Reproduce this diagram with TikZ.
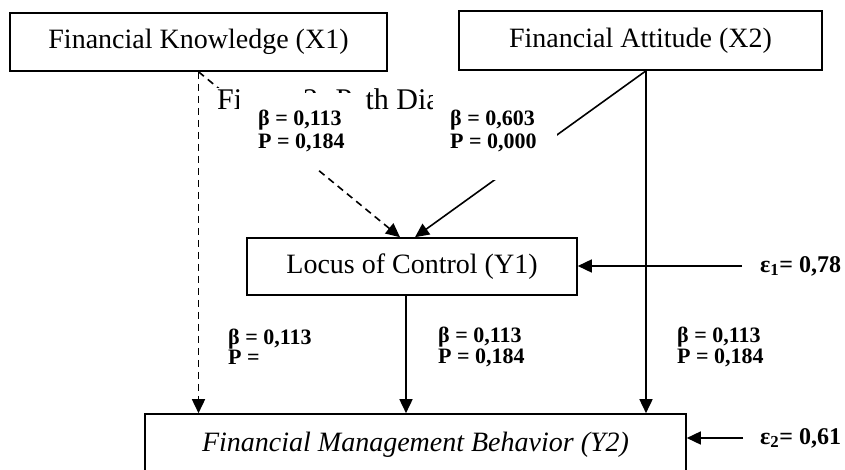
\documentclass[tikz,border=0pt]{standalone}
\usepackage{fontspec}
\setmainfont{Liberation Serif}
\usetikzlibrary{arrows.meta}
\begin{document}
\begin{tikzpicture}[x=1pt,y=-1pt,
  box/.style={draw, line width=1.6pt, fill=white, inner sep=0pt, font=\fontsize{28}{32}\selectfont},
  conn/.style={line width=1.6pt, -{Triangle[length=14pt,width=13pt]}},
  dconn/.style={conn, dash pattern=on 7pt off 5pt},
  lbl/.style={font=\bfseries\fontsize{22}{18.5}\selectfont, align=left, inner sep=0pt, anchor=west},
  lblu/.style={lbl, font=\bfseries\fontsize{22}{23}\selectfont},
  eps/.style={font=\bfseries\fontsize{24}{28}\selectfont, inner sep=0pt, anchor=west},
  cover/.style={fill=white, inner sep=0pt},
]
\useasboundingbox (0,0) rectangle (845,470);

% boxes
\node[box, minimum width=377pt, minimum height=58pt] (x1) at (198.5,42) {Financial Knowledge (X1)};
\node[box, minimum width=363pt, minimum height=59pt] (x2) at (640.5,40.5) {Financial Attitude (X2)};
\node[box, minimum width=330pt, minimum height=57pt] (y1) at (412,266.5) {Locus of Control (Y1)};
\node[box, minimum width=541pt, minimum height=62pt] (y2) at (415.5,445) {\itshape Financial Management Behavior (Y2)};

% helper coordinates
\coordinate (x2o) at ([xshift=5.5pt]x2.south);
\coordinate (y1in1) at ([xshift=-12pt]y1.north);
\coordinate (y1in2) at ([xshift=3pt]y1.north);
\coordinate (y1out) at ([xshift=-6pt]y1.south);
\coordinate (e1s) at (742,266);
\coordinate (e2s) at (743,438);

% connectors
\draw[dconn] (x1.south) -- (x1.south |- y2.north);
\draw[dconn] (x1.south) -- (y1in1);
\draw[conn] (x2o) -- (y1in2);
\draw[conn] (x2o) -- (x2o |- y2.north);
\draw[conn] (y1out) -- (y1out |- y2.north);
\draw[conn] (e1s) -- (e1s -| y1.east);
\draw[conn] (e2s) -- (e2s -| y2.east);

% caption partly hidden
\node[font=\fontsize{30}{34}\selectfont, fill=white, inner sep=1pt, anchor=base west] (cap) at (216,110) {Figure 2. Path Diagram};

% label covers
\node[cover, minimum width=126pt, minimum height=77pt, anchor=north west] (c1) at (239,93) {};
\node[cover, minimum width=124pt, minimum height=89pt, anchor=north west] (c2) at (433,91) {};

% labels
\node[lblu] (l1) at (258,131) {β = 0,113\\P = 0,184};
\node[lblu] (l2) at (450,131) {β = 0,603\\P = 0,000};
\node[lbl] (l3) at (228,347) {β = 0,113\\P =};
\node[lbl] (l4) at (438,347) {β = 0,113\\P = 0,184};
\node[lbl] (l5) at (677,347) {β = 0,113\\P = 0,184};

\node[eps] (e1) at (760,266) {ε\textsubscript{1}= 0,78};
\node[eps] (e2) at (760,438) {ε\textsubscript{2}= 0,61};
\end{tikzpicture}
\end{document}
